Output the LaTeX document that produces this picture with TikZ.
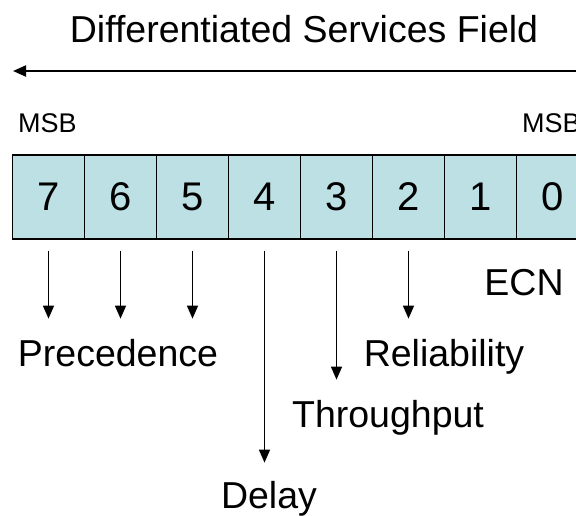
\documentclass[tikz,border=0pt]{standalone}
\usepackage{fontspec}
\setmainfont{Liberation Sans}
\usepackage{xcolor}
\usetikzlibrary{arrows.meta}
\definecolor{cellblue}{RGB}{188,224,227}

\begin{document}
\begin{tikzpicture}[x=1pt, y=-1pt,
    >={Triangle[width=11pt,length=13pt]},
    bit/.style={draw, fill=cellblue, line width=1.4pt, minimum width=72pt, minimum height=84pt, inner sep=0pt, font=\fontsize{40}{44}\selectfont},
    lbl/.style={inner sep=0pt, anchor=base, font=\fontsize{37.5}{42}\selectfont},
    msb/.style={inner sep=0pt, anchor=base west, font=\fontsize{27}{30}\selectfont}]
    \useasboundingbox (0, 0) rectangle (576, 515);
    \clip (0, 0) rectangle (576, 515);
    \path (304, 42) node [lbl] (dsf) {Differentiated Services Field};
    \path (13, 71) coordinate (al) (589, 71) coordinate (ar);
    \draw [<->, line width=2pt] (al) -- (ar);
    \path (18, 132) node [msb] (msbl) {MSB};
    \path (522, 132) node [msb] (msbr) {MSB};
    \path (48.5, 197) node [bit] (b7) {7};
    \path (120.5, 197) node [bit] (b6) {6};
    \path (192.5, 197) node [bit] (b5) {5};
    \path (264.5, 197) node [bit] (b4) {4};
    \path (336.5, 197) node [bit] (b3) {3};
    \path (408.5, 197) node [bit] (b2) {2};
    \path (480.5, 197) node [bit] (b1) {1};
    \path (552.5, 197) node [bit] (b0) {0};
    \path (524, 295) node [lbl] (ecn) {ECN};
    \path (118, 366) node [lbl] (pr) {Precedence};
    \draw [->, line width=1.5pt, shorten <=11pt, shorten >=20pt] (b7.south) -- (b7.south |- pr.north);
    \draw [->, line width=1.5pt, shorten <=11pt, shorten >=20pt] (b6.south) -- (b6.south |- pr.north);
    \draw [->, line width=1.5pt, shorten <=11pt, shorten >=20pt] (b5.south) -- (b5.south |- pr.north);
    \path (444, 366) node [lbl] (re) {Reliability};
    \draw [->, line width=1.5pt, shorten <=11pt, shorten >=20pt] (b2.south) -- (b2.south |- re.north);
    \path (388, 427) node [lbl] (th) {Throughput};
    \draw [->, line width=1.5pt, shorten <=11pt, shorten >=20pt] (b3.south) -- (b3.south |- th.north);
    \path (269, 508) node [lbl] (de) {Delay};
    \draw [->, line width=1.5pt, shorten <=11pt, shorten >=18pt] (b4.south) -- (b4.south |- de.north);
\end{tikzpicture}
\end{document}
